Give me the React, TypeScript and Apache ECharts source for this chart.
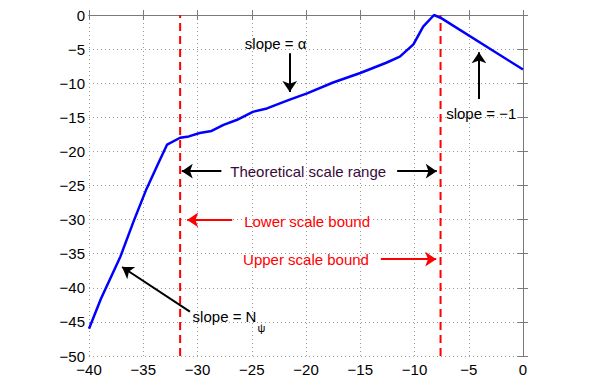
import React, { useEffect, useRef } from "react";
import * as echarts from "echarts";

// Response curve (x: scale in dB-like units, y: level)
const curveX = [-40, -38.9, -37.1, -35.9, -34.7, -33.6, -32.8, -31.6, -30.8, -29.8, -28.7, -27.6, -26.4, -24.9, -23.6, -21.5, -19.9, -17.5, -15.0, -12.6, -11.35, -10.1, -9.2, -8.2, -7.5, 0];
const curveY = [-46, -41.6, -35.4, -30.3, -25.5, -21.7, -19.0, -18.0, -17.8, -17.3, -17.0, -16.1, -15.4, -14.2, -13.7, -12.4, -11.5, -9.9, -8.5, -7.0, -6.1, -4.3, -1.7, 0, -0.5, -8];

const lowerBound = -31.6;
const upperBound = -7.6;

const xRange = [-40, 0];
const yRange = [-50, 0];
const tickStep = 5;

// Annotation texts (data coordinates)
const annoText = ["slope = \u03b1", "slope = \u22121", "Theoretical scale range", "Lower scale bound", "Upper scale bound", "slope = N"];
const annoX = [-22.8, -3.85, -19.8, -19.9, -20.0, -30.45];
const annoY = [-4.25, -14.4, -23.0, -30.3, -35.8, -44.25];
const annoAlign = ["center", "center", "center", "center", "center", "left"];
const annoColor = ["#000000", "#000000", "#3a0a3a", "#ff0000", "#ff0000", "#000000"];
const subText = ["\u03c8"];
const subX = [-24.1];
const subY = [-45.9];

// Arrows (from -> to, data coordinates)
const arrowFrom = [[-21.5, -5.6], [-4.06, -12.3], [-27.8, -22.9], [-11.6, -22.9], [-26.8, -30.05], [-13.1, -35.8], [-30.7, -43.5]];
const arrowTo = [[-21.5, -11.3], [-4.06, -5.45], [-31.45, -22.9], [-7.95, -22.9], [-30.95, -30.05], [-8.0, -35.8], [-36.95, -36.95]];
const arrowColor = ["#000000", "#000000", "#000000", "#000000", "#ff0000", "#ff0000", "#000000"];

const FONT = "'Liberation Sans', Arial, Helvetica, sans-serif";
const fmt = (v: number) => String(v).replace("-", "\u2212");

export default function App() {
  const ref = useRef<HTMLDivElement>(null);
  useEffect(() => {
    if (!ref.current) return;
    const chart = echarts.init(ref.current, null, { renderer: "svg" });
    const frame = "#7a7a7a";
    const baseAxis = {
      type: "value" as const,
      interval: tickStep,
      axisLine: { show: true, lineStyle: { color: frame, width: 1 } },
      axisTick: { show: true, inside: true, length: 5, lineStyle: { color: frame } },
      splitLine: { show: false },
    };
    const option: any = {
      animation: false,
      backgroundColor: "#ffffff",
      grid: { left: 89, top: 15, right: 72, bottom: 29, containLabel: false },
      xAxis: [
        {
          ...baseAxis,
          position: "bottom",
          min: xRange[0],
          max: xRange[1],
          axisLabel: { color: "#000", fontFamily: FONT, fontSize: 15, margin: 6, formatter: fmt },
          splitLine: { show: true, lineStyle: { color: "#9a9a9a", type: [1, 3], width: 1 } },
        },
        { ...baseAxis, position: "top", min: xRange[0], max: xRange[1], axisLabel: { show: false } },
      ],
      yAxis: [
        {
          ...baseAxis,
          position: "left",
          min: yRange[0],
          max: yRange[1],
          axisLabel: { color: "#000", fontFamily: FONT, fontSize: 15, margin: 4, formatter: fmt },
          splitLine: { show: true, lineStyle: { color: "#9a9a9a", type: [1, 3], width: 1 } },
        },
        { ...baseAxis, position: "right", min: yRange[0], max: yRange[1], axisLabel: { show: false } },
      ],
      series: [
        {
          type: "line",
          data: [[lowerBound, yRange[0]], [lowerBound, yRange[1]]],
          showSymbol: false,
          symbol: "none",
          lineStyle: { color: "#ff0000", width: 2, type: [8, 5] },
          z: 3,
        },
        {
          type: "line",
          data: [[upperBound, yRange[0]], [upperBound, yRange[1]]],
          showSymbol: false,
          symbol: "none",
          lineStyle: { color: "#ff0000", width: 2, type: [8, 5] },
          z: 3,
        },
        {
          type: "line",
          data: curveX.map((x, i) => [x, curveY[i]]),
          showSymbol: false,
          symbol: "none",
          lineStyle: { color: "#0000ff", width: 2.5 },
          z: 4,
        },
        {
          type: "lines",
          coordinateSystem: "cartesian2d",
          symbol: ["none", "arrow"],
          symbolSize: 11,
          lineStyle: { opacity: 1, width: 2 },
          data: arrowFrom.map((f, i) => ({
            coords: [f, arrowTo[i]],
            lineStyle: { color: arrowColor[i], width: 2, opacity: 1 },
          })),
          z: 5,
        },
      ],
    };
    chart.setOption(option);
    const toPx = (p: number[]) => chart.convertToPixel({ gridIndex: 0 }, p) as number[];
    const graphics: any[] = annoText.map((t, i) => {
      const [px, py] = toPx([annoX[i], annoY[i]]);
      return {
        type: "text",
        x: px,
        y: py,
        z: 10,
        style: {
          text: t,
          fill: annoColor[i],
          fontFamily: FONT,
          fontSize: 15,
          textAlign: annoAlign[i],
          textVerticalAlign: "middle",
          align: annoAlign[i],
          verticalAlign: "middle",
        },
      };
    });
    subText.forEach((t, i) => {
      const [px, py] = toPx([subX[i], subY[i]]);
      graphics.push({
        type: "text",
        x: px,
        y: py,
        z: 10,
        style: {
          text: t,
          fill: "#000",
          fontFamily: FONT,
          fontSize: 11,
          textAlign: "center",
          textVerticalAlign: "middle",
          align: "center",
          verticalAlign: "middle",
        },
      });
    });
    chart.setOption({ graphic: graphics });
    return () => chart.dispose();
  }, []);
  return (
    <div
      ref={ref}
      style={{ position: "fixed", left: 0, top: 0, width: 595, height: 385, background: "#fff" }}
    />
  );
}
